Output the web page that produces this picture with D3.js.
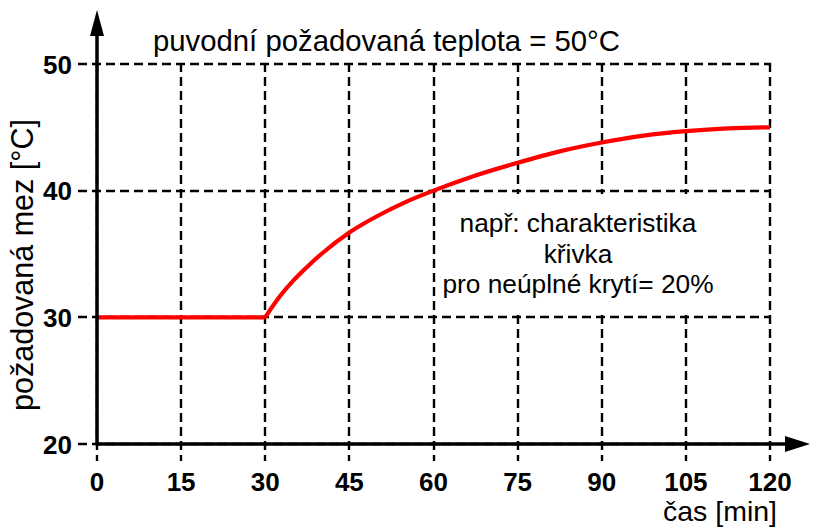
<!DOCTYPE html>
<html><head><meta charset="utf-8">
<script src="https://cdn.jsdelivr.net/npm/d3@7/dist/d3.min.js"></script>
<style>
html,body{margin:0;padding:0;background:#fff;}
svg{display:block;font-family:"Liberation Sans",Arial,sans-serif;}
</style></head>
<body>
<svg id="chart" width="814" height="528"></svg>
<script>
// ---- data ----
const xTicks = [0, 15, 30, 45, 60, 75, 90, 105, 120];
const yTicks = [20, 30, 40, 50];
const times  = [0, 30, 32.5, 35, 37.5, 40, 45, 50, 55, 60, 67.5, 75, 82.5, 90, 97.5, 105, 112.5, 120];
const values = [30, 30, 31.6, 32.9, 34.0, 35.0, 36.7, 38.0, 39.1, 40.0, 41.2, 42.2, 43.1, 43.8, 44.35, 44.7, 44.92, 45.0];
const titleText = "puvodní požadovaná teplota = 50°C";
const yLabel = "požadovaná mez [°C]";
const xLabel = "čas [min]";
const noteLines = ["např: charakteristika", "křivka", "pro neúplné krytí= 20%"];
const noteBox = {x0: 60, x1: 120, y0: 30, y1: 40};

const svg = d3.select("#chart");
const x = d3.scaleLinear().domain([0, 120]).range([97, 770]);
const y = d3.scaleLinear().domain([20, 50]).range([444, 64]);
const rx = d => Math.round(x(d));
const ry = d => Math.round(y(d));

// grid lines
const grid = svg.append("g").attr("stroke", "#000").attr("stroke-width", 2.4).attr("stroke-dasharray", "9,5");
grid.selectAll("line.v").data(xTicks).join("line")
  .attr("x1", rx).attr("x2", rx)
  .attr("y1", ry(50) - 1).attr("y2", 461);
grid.selectAll("line.h").data(yTicks).join("line")
  .attr("x1", 78).attr("x2", rx(120) + 1)
  .attr("y1", ry).attr("y2", ry);

// white panel behind the note (hides inner grid lines)
svg.append("rect")
  .attr("x", rx(noteBox.x0) + 3).attr("y", ry(noteBox.y1) + 3)
  .attr("width", rx(noteBox.x1) - rx(noteBox.x0) - 6)
  .attr("height", ry(noteBox.y0) - ry(noteBox.y1) - 6)
  .attr("fill", "#fff");

// curve: flat part then rising part
const pts = times.map((t, i) => [t, values[i]]);
const flat = pts.filter(p => p[0] <= 30);
const rise = pts.filter(p => p[0] >= 30);
svg.append("path").datum(flat).attr("d", d3.line().x(p => x(p[0])).y(p => y(p[1])))
  .attr("fill", "none").attr("stroke", "#ff0000").attr("stroke-width", 4.2);
svg.append("path").datum(rise).attr("d", d3.line().x(p => x(p[0])).y(p => y(p[1])).curve(d3.curveMonotoneX))
  .attr("fill", "none").attr("stroke", "#ff0000").attr("stroke-width", 4.2)
  .attr("stroke-linejoin", "round");

// axes with arrows
svg.append("line").attr("x1", x(0)).attr("x2", 790).attr("y1", ry(20)).attr("y2", ry(20))
  .attr("stroke", "#000").attr("stroke-width", 3.5);
svg.append("line").attr("x1", rx(0)).attr("x2", rx(0)).attr("y1", ry(20) + 1.5).attr("y2", 30)
  .attr("stroke", "#000").attr("stroke-width", 3.5);
svg.append("path").attr("d", `M${rx(0)},10 L${rx(0) - 7},36 L${rx(0) + 7},36 Z`).attr("fill", "#000");
svg.append("path").attr("d", `M810,${ry(20)} L785,${ry(20) - 8} L785,${ry(20) + 8} Z`).attr("fill", "#000");

// tick labels
svg.append("g").selectAll("text").data(xTicks).join("text")
  .attr("x", d => x(d)).attr("y", 491).attr("text-anchor", "middle")
  .attr("font-size", 26).attr("font-weight", "bold").text(d => d);
svg.append("g").selectAll("text").data(yTicks).join("text")
  .attr("x", 72).attr("y", d => y(d) + 9.5).attr("text-anchor", "end")
  .attr("font-size", 26).attr("font-weight", "bold").text(d => d);

// texts
svg.append("text").attr("x", 153).attr("y", 51).attr("font-size", 29.3).text(titleText);
svg.append("text").attr("transform", "translate(33,265) rotate(-90)")
  .attr("text-anchor", "middle").attr("font-size", 30.5).text(yLabel);
svg.append("text").attr("x", 777).attr("y", 521).attr("text-anchor", "end")
  .attr("font-size", 28.5).text(xLabel);
svg.append("g").selectAll("text").data(noteLines).join("text")
  .attr("x", 578).attr("y", (d, i) => 232 + i * 30.5).attr("text-anchor", "middle")
  .attr("font-size", 26.3)
  .text(d => d);
</script>
</body></html>
